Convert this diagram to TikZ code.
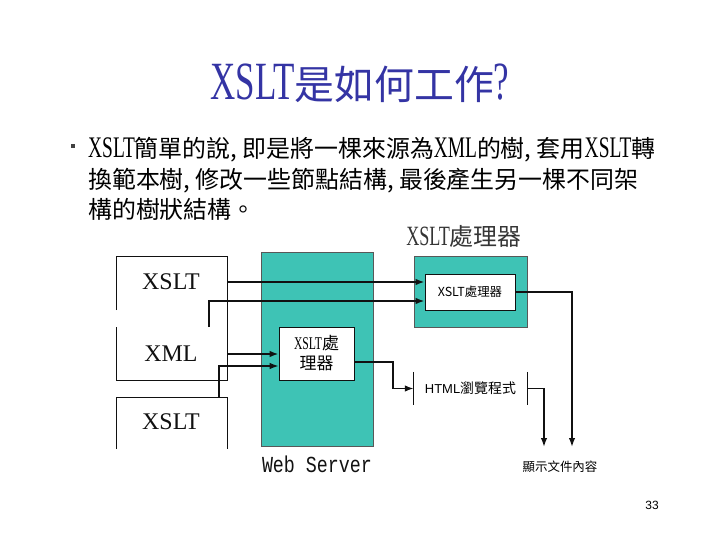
\documentclass[tikz,border=0pt]{standalone}
\usepackage{fontspec}
\setmainfont{Liberation Serif}
\newfontfamily\cjk{Noto Sans CJK TC}
\newfontfamily\narrowserif[FakeStretch=0.65]{Liberation Serif}
\newfontfamily\narrowmono[FakeStretch=0.8]{Liberation Mono}
\newfontfamily\plainsans{Liberation Sans}
\usetikzlibrary{positioning,arrows.meta}
\definecolor{slideblue}{HTML}{3434A4}
\definecolor{serverteal}{HTML}{3EC3B5}
\definecolor{slideink}{HTML}{111111}
\newcommand{\lat}[2]{{\narrowserif\fontsize{#1}{#1}\selectfont #2}}

\begin{document}
\begin{tikzpicture}[x=1bp,y=-1bp,
  font=\cjk,
  flow/.style={draw=slideink, line width=2.1bp, -{Latex[length=9bp,width=6.5bp]}},
  flowthin/.style={flow, line width=1.6bp},
  panel/.style={draw=slideink!70, line width=0.6bp, fill=serverteal},
  procbox/.style={draw=slideink, line width=0.6bp, fill=white, inner sep=0pt},
  edgeline/.style={draw=slideink, line width=0.8bp},
  boxtext/.style={font=\fontsize{24}{26}\selectfont, inner sep=0pt, text=slideink},
  bodyline/.style={anchor=base west, inner sep=0pt, font=\cjk\fontsize{24}{26}\selectfont},
  ]
  \useasboundingbox (0,0) rectangle (720,540);

  % title and bullet text
  \node[text=slideblue, font=\cjk\fontsize{40}{44}\selectfont] (title) at (360,83)
    {\lat{54}{XSLT}是如何工作\lat{54}{?}};
  \node[fill=slideink!80, minimum size=4.5bp, inner sep=0pt] (dot) at (73,146) {};
  \node[bodyline] (line1) at (88,158) {\lat{30}{XSLT}簡單的說, 即是將一棵來源為\lat{30}{XML}的樹, 套用\lat{30}{XSLT}轉};
  \node[bodyline] (line2) at (88,189) {換範本樹, 修改一些節點結構, 最後產生另一棵不同架};
  \node[bodyline] (line3) at (88,219) {構的樹狀結構。};

  % source documents
  \draw[edgeline] (116,310) -- (116,256) -- (227,256) -- (227,380) -- (116,380) -- (116,327);
  \draw[edgeline] (116,449) -- (116,397) -- (227,397) -- (227,449);
  \node[boxtext] (xsltTop) at (171,282) {XSLT};
  \node[boxtext] (xmlMid) at (171,354) {XML};
  \node[boxtext] (xsltLow) at (171,422) {XSLT};
  \coordinate (srcTop) at (227,282);
  \coordinate (srcXml) at (209,327);
  \coordinate (xmlUp) at (209,301);
  \coordinate (srcXmlLocal) at (227,354);
  \coordinate (srcLow) at (219,397);
  \coordinate (lowUp) at (219,366);

  % web server
  \node[panel, minimum width=112bp, minimum height=194bp] (server) at (317,349) {};
  \node[procbox, minimum width=75bp, minimum height=53bp, align=center,
    font=\cjk\fontsize{17}{20}\selectfont] (procLocal) at (316.5,353.5)
    {\lat{18}{XSLT}處\\理器};
  \node[font=\narrowmono\fontsize{23}{25}\selectfont, text=slideink] (serverName) at (317,464) {Web Server};

  % client side processor
  \node[text=slideink!85, font=\cjk\fontsize{24}{26}\selectfont] (procTitle) at (464,236)
    {\lat{28}{XSLT}處理器};
  \node[panel, minimum width=113bp, minimum height=71bp] (procFrame) at (470.5,291.5) {};
  \node[procbox, minimum width=90bp, minimum height=36bp,
    font=\cjk\fontsize{12.5}{14}\selectfont] (procRemote) at (470,292) {XSLT處理器};

  % browser
  \node[minimum width=113bp, minimum height=33bp,
    font=\cjk\fontsize{14}{16}\selectfont] (browser) at (470.5,388.5)
    {{\plainsans\fontsize{13}{15}\selectfont HTML}瀏覽程式};
  \draw[edgeline] (browser.north west) -- (browser.south west);
  \draw[edgeline] (browser.north east) -- (browser.south east);
  \coordinate (localOut) at (354,362);
  \coordinate (localTurn) at (393,362);
  \coordinate (browserDrop) at (544,447);
  \coordinate (remoteDrop) at (572,447);
  \node[font=\cjk\fontsize{12.5}{14}\selectfont] (display) at (560,467) {顯示文件內容};

  % connectors
  \draw[flow] (srcTop) -- (procRemote.west |- srcTop);
  \draw[flow] (srcXml) -- (xmlUp) -- (procRemote.west |- xmlUp);
  \draw[flow] (srcXmlLocal) -- (procLocal.west |- srcXmlLocal);
  \draw[flowthin] (srcLow) -- (lowUp) -- (procLocal.west |- lowUp);
  \draw[flowthin] (localOut) -- (localTurn) |- (browser.west);
  \draw[flowthin] (procRemote.east) -| (remoteDrop);
  \draw[flowthin] (browser.east) -| (browserDrop);

  \node[font=\plainsans\fontsize{12}{14}\selectfont] (pageNo) at (652,505) {33};
\end{tikzpicture}
\end{document}
